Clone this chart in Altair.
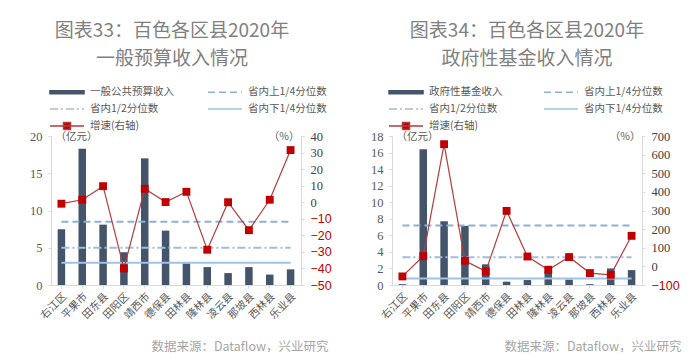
import altair as alt
import pandas as pd

# ---------------- data ----------------
counties = ["右江区", "平果市", "田东县", "田阳区", "靖西市", "德保县",
            "田林县", "隆林县", "凌云县", "那坡县", "西林县", "乐业县"]

# 图表33 一般公共预算收入 (亿元) and growth (%)
budget_income = [7.5, 18.3, 8.1, 4.4, 17.0, 7.3, 2.9, 2.4, 1.6, 2.4, 1.4, 2.1]
budget_growth = [-0.9, 1.5, 9.7, -40.0, 8.1, 0.1, 6.3, -28.7, 0.0, -16.9, 1.5, 31.5]
budget_quartiles = [8.5, 5.0, 3.0]   # 上1/4, 1/2, 下1/4

# 图表34 政府性基金收入 (亿元) and growth (%)
fund_income = [0.1, 16.4, 7.7, 7.15, 2.5, 0.4, 0.6, 1.6, 0.65, 0.1, 2.0, 1.8]
fund_growth = [-54, 55, 656, 30, -27, 298, 53, -18, 50, -36, -45, 164]
fund_quartiles = [7.2, 3.35, 0.8]

titles = [["图表33：百色各区县2020年", "一般预算收入情况"],
          ["图表34：百色各区县2020年", "政府性基金收入情况"]]
bar_names = ["一般公共预算收入", "政府性基金收入"]
line_names = ["省内上1/4分位数", "省内1/2分位数", "省内下1/4分位数"]
growth_name = "增速(右轴)"
source_text = "数据来源：Dataflow，兴业研究"

# ---------------- styles ----------------
BAR = "#44546a"
Q_COLORS = ["#8eb0d8", "#a3bcd6", "#9dc3e6"]
Q_DASHES = [[7, 4], [8, 3, 2, 3], [1, 0]]
LINE_RED = "#b13d3d"
SQ_RED = "#c00000"
GRAY = "#595959"
AX = "#d9d9d9"
CJK = "Noto Sans CJK SC"
SERIF = "Liberation Serif"


def make_panel(title, bar_name, bars, growth, quarts, ydom, yvals, rdom, rvals,
               colpad, legx, title_dx, src_x):
    df = pd.DataFrame({"区县": counties, "收入": bars, "增速": growth})
    xscale = alt.Scale(domain=counties, paddingInner=0, paddingOuter=0)
    xaxis = alt.Axis(labelAngle=-45, labelFont=CJK, labelFontSize=10.5,
                     labelColor=GRAY, domainColor=AX, tickColor=AX, tickSize=3,
                     labelPadding=3, labelOverlap=False, title=source_text,
                     titleFont=CJK, titleFontSize=12.5, titleFontWeight="normal",
                     titleColor="#a6a6a6", titleAlign="right", titleX=src_x,
                     titleY=61, titleBaseline="middle")
    yscale = alt.Scale(domain=ydom, nice=False, zero=False)
    left_axis = alt.Axis(values=yvals, grid=False, labelFont=SERIF,
                         labelFontSize=12.5, labelColor=GRAY, domainColor=AX,
                         tickColor=AX, tickSize=3, labelPadding=6,
                         labelOverlap=False,
                         title="（亿元）", titleAngle=0, titleX=4, titleY=0,
                         titleAlign="left", titleBaseline="middle",
                         titleFont=CJK, titleFontSize=10.5,
                         titleFontWeight="normal", titleColor=GRAY)
    bar_layer = alt.Chart(df).mark_bar(size=7.5, color=BAR).encode(
        x=alt.X("区县:N", scale=xscale, axis=xaxis),
        y=alt.Y("收入:Q", scale=yscale, axis=left_axis),
    )
    rule_layers = []
    for q, dash, col in zip(quarts, Q_DASHES, Q_COLORS):
        rdf = pd.DataFrame({"起": [counties[0]], "止": [counties[-1]], "值": [q]})
        rule_layers.append(
            alt.Chart(rdf).mark_rule(strokeDash=dash, color=col, strokeWidth=2).encode(
                x=alt.X("起:N", scale=xscale, axis=xaxis), x2="止:N",
                y=alt.Y("值:Q", scale=yscale, axis=left_axis),
            ))
    left = alt.layer(bar_layer, *rule_layers)

    rscale = alt.Scale(domain=rdom, nice=False, zero=False)
    right_axis = alt.Axis(orient="right", values=rvals, grid=False,
                          labelOverlap=False,
                          labelFont={"condition": {"test": "datum.value < 0", "value": "Liberation Sans"},
                                     "value": SERIF},
                          labelColor={"condition": {"test": "datum.value < 0", "value": SQ_RED},
                                      "value": "#404040"},
                          labelFontSize=12.5, domainColor=AX, tickColor=AX,
                          tickSize=3, labelPadding=6,
                          title="（%）", titleAngle=0, titleX=-2, titleY=0,
                          titleAlign="right", titleBaseline="middle",
                          titleFont=CJK, titleFontSize=10.5,
                          titleFontWeight="normal", titleColor=GRAY)
    line = alt.Chart(df).mark_line(color=LINE_RED, strokeWidth=1.2).encode(
        x=alt.X("区县:N", scale=xscale, axis=xaxis),
        y=alt.Y("增速:Q", scale=rscale, axis=right_axis),
    )
    squares = alt.Chart(df).mark_square(size=62, color=SQ_RED, opacity=1).encode(
        x=alt.X("区县:N", scale=xscale, axis=xaxis),
        y=alt.Y("增速:Q", scale=rscale, axis=right_axis),
    )
    right = alt.layer(line, squares)

    # legend (native Vega legend driven by an invisible layer);
    # entries fill the legend column by column
    names = [bar_name, line_names[1], growth_name, line_names[0], line_names[2]]
    leg_df = pd.DataFrame({"系列": names})
    leg = alt.Legend(title=None, orient="none", legendX=legx, legendY=-51,
                     columns=2, columnPadding=colpad, rowPadding=4,
                     symbolSize=144, symbolStrokeWidth=1.5, symbolOpacity=1,
                     labelFont=CJK, labelFontSize=10.5, labelColor=GRAY,
                     labelOffset=27)
    bar_sym = "M-1,-0.25H4.67V0.25H-1Z"
    line_sym = "M-1,0H4.67"
    growth_sym = "M-1,0H4.67M1.25,-0.58H2.42V0.58H1.25Z"
    shapes = [bar_sym, line_sym, growth_sym, line_sym, line_sym]
    fills = [BAR, "transparent", SQ_RED, "transparent", "transparent"]
    strokes = [BAR, Q_COLORS[1], LINE_RED, Q_COLORS[0], Q_COLORS[2]]
    dashes = [[1, 0], Q_DASHES[1], [1, 0], Q_DASHES[0], Q_DASHES[2]]
    legend_layer = alt.Chart(leg_df).mark_point(filled=True, opacity=0).encode(
        fill=alt.Fill("系列:N", scale=alt.Scale(domain=names, range=fills), legend=leg),
        stroke=alt.Stroke("系列:N", scale=alt.Scale(domain=names, range=strokes), legend=leg),
        shape=alt.Shape("系列:N", scale=alt.Scale(domain=names, range=shapes), legend=leg),
        strokeDash=alt.StrokeDash("系列:N", scale=alt.Scale(domain=names, range=dashes), legend=leg),
    )

    return alt.layer(left, right, legend_layer).resolve_scale(y="independent").properties(
        width=250, height=149,
        title=alt.TitleParams(text=title, fontSize=19, color="#808080", font=CJK,
                              fontWeight="normal", anchor="middle", lineHeight=28,
                              offset=16, dx=title_dx),
    )


p1 = make_panel(titles[0], bar_names[0], budget_income, budget_growth, budget_quartiles,
                [0, 20], [0, 5, 10, 15, 20], [-50, 40], list(range(-50, 41, 10)),
                31, -2, -4, 277)
p2 = make_panel(titles[1], bar_names[1], fund_income, fund_growth, fund_quartiles,
                [0, 18], list(range(0, 19, 2)), [-100, 700], list(range(-100, 701, 100)),
                38, -4, 10, 289)

chart = alt.hconcat(p1, p2, spacing=38).resolve_scale(
    fill="independent", stroke="independent", shape="independent", strokeDash="independent"
).configure_view(stroke=None).configure_axis(labelOverlap=False).properties(
    padding={"left": 21, "top": 14, "right": 5, "bottom": 5}
)

chart.save("out.html", embed_options={"renderer": "svg", "actions": False})
